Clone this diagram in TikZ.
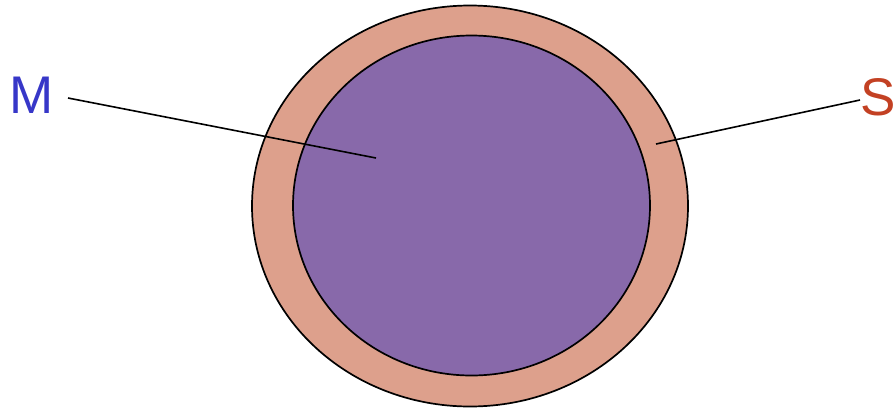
\documentclass[tikz,border=0pt]{standalone}
\usepackage{fontspec}
\setmainfont{Liberation Sans}
\usetikzlibrary{shapes.geometric}
\definecolor{shellc}{RGB}{221,160,140}
\definecolor{corec}{RGB}{136,105,170}
\definecolor{mblue}{RGB}{55,55,200}
\definecolor{sred}{RGB}{195,65,35}
\tikzset{lbl/.style={inner sep=0pt,font=\fontsize{53}{53}\selectfont},
  ring/.style={draw=black,line width=1.7pt}}
\begin{document}
\begin{tikzpicture}[x=1pt,y=-1pt]
\useasboundingbox (0,0) rectangle (894,408);
\node[ring,fill=shellc,ellipse,minimum width=436,minimum height=401,inner sep=0pt] (outer) at (470,206) {};
\node[ring,fill=corec,ellipse,minimum width=357,minimum height=340,inner sep=0pt] (inner) at (471.5,205.5) {};
\node[lbl,text=mblue] (M) at (32,95) {M};
\node[lbl,text=sred] (S) at (878,97) {S};
\coordinate (mend) at (376,158);
\coordinate (send) at (656,144);
\coordinate (mstart) at (68,98);
\coordinate (sstart) at (860,100);
\draw[line width=1.6pt] (mstart) -- (mend);
\draw[line width=1.6pt] (sstart) -- (send);
\end{tikzpicture}
\end{document}
